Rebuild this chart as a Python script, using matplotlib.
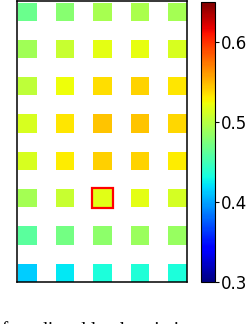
# -*- coding: utf-8 -*-
#%% Packages
import numpy as np
import matplotlib
matplotlib.use('Agg')
import matplotlib.pyplot as plt
import matplotlib.colors as mcolors
import matplotlib.cm as cm
from matplotlib.patches import Rectangle

#%% Values read from the map (top row first, 5 columns each)
row1 = [0.468, 0.480, 0.494, 0.495, 0.492]
row2 = [0.491, 0.507, 0.519, 0.521, 0.514]
row3 = [0.503, 0.524, 0.536, 0.540, 0.533]
row4 = [0.514, 0.533, 0.545, 0.545, 0.539]
row5 = [0.514, 0.531, 0.541, 0.540, 0.531]
row6 = [0.492, 0.507, 0.518, 0.520, 0.512]
row7 = [0.461, 0.472, 0.482, 0.488, 0.486]
row8 = [0.414, 0.424, 0.435, 0.436, 0.434]

cbTicks = [0.3, 0.4, 0.5, 0.6]
vMin, vMax = 0.3, 0.65
markedRow, markedCol = 5, 2
caption = 'of predicted load variation'

#%% Figure
fig = plt.figure(figsize=(2.52, 3.24), dpi=100)
ax0 = fig.add_axes([17.3/252, 1-282.3/324, (187.0-17.3)/252, (282.3-0.5)/324])

cmap = plt.get_cmap('jet')
norm = mcolors.Normalize(vmin=vMin, vmax=vMax)
vals = np.array([row1, row2, row3, row4, row5, row6, row7, row8])
nRows, nCols = vals.shape

half = 0.245  # half width of a cell square
for r in range(nRows):
    for c in range(nCols):
        y = nRows - 1 - r
        ax0.add_patch(Rectangle((c-half, y-half), 2*half, 2*half,
                                facecolor=cmap(norm(vals[r, c])), edgecolor='none'))

# highlighted cell
pad = 0.03
yM = nRows - 1 - markedRow
ax0.add_patch(Rectangle((markedCol-half-pad, yM-half-pad), 2*(half+pad), 2*(half+pad),
                        fill=False, edgecolor='red', lw=1.6))

ax0.set_xlim(-0.272, nCols - 1 + 0.255)
ax0.set_ylim(-0.255, nRows - 1 + 0.3)
ax0.set_xticks([])
ax0.set_yticks([])
for s in ax0.spines.values():
    s.set_linewidth(1.1)

#%% Colorbar
cax = fig.add_axes([201/252, 1-282/324, 14.3/252, 279.7/324])
cb = fig.colorbar(cm.ScalarMappable(norm=norm, cmap=cmap), cax=cax, ticks=cbTicks)
cb.ax.tick_params(labelsize=12, length=3, width=0.8, pad=1)
cb.outline.set_linewidth(0.8)

#%% Caption (cut off at the bottom as in the source)
fig.text(-0.032, 0.0092, caption, ha='left', va='top',
         family='Liberation Serif', fontsize=14)

fig.savefig('out.png', dpi=100)
plt.close()
